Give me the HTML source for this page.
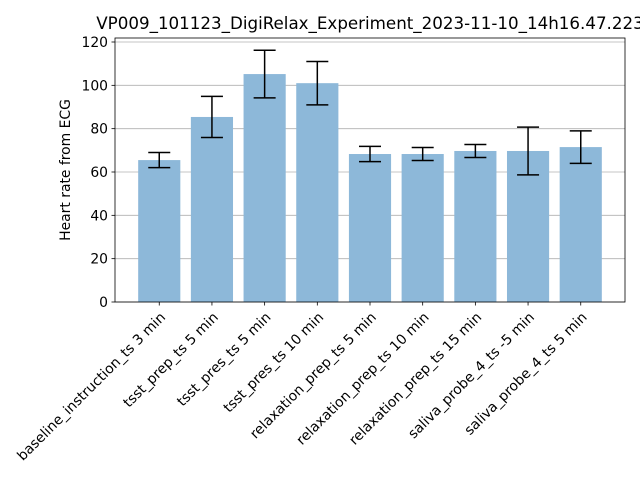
<!DOCTYPE html>
<html><head><meta charset="utf-8"><style>
html,body{margin:0;padding:0;background:#fff;overflow:hidden}
svg{font-family:"DejaVu Sans","Liberation Sans",sans-serif}
</style></head><body>
<svg id="chart" width="640" height="480" xmlns="http://www.w3.org/2000/svg">
<rect width="640" height="480" fill="#fff"/>
<g id="grid"></g><g id="bars"></g><g id="errs"></g><g id="axes"></g>
</svg>
<script>
const categories=["baseline_instruction_ts 3 min","tsst_prep_ts 5 min","tsst_pres_ts 5 min","tsst_pres_ts 10 min","relaxation_prep_ts 5 min","relaxation_prep_ts 10 min","relaxation_prep_ts 15 min","saliva_probe_4_ts -5 min","saliva_probe_4_ts 5 min"];
const values=[65.5,85.4,105.2,101,68.3,68.3,69.7,69.7,71.5];
const errors=[3.5,9.5,11,10,3.5,3,3,11,7.5];
const yTicks=[0,20,40,60,80,100,120];
const NS="http://www.w3.org/2000/svg";
const L=115,R=625,T=38,B=302;
const xmin=-0.84,xmax=categories.length-1+0.84;
const X=v=>L+(v-xmin)/(xmax-xmin)*(R-L);
const Y=v=>B-v*(260/120);
function mk(tag,attrs,parent,text){const e=document.createElementNS(NS,tag);for(const k in attrs)e.setAttribute(k,attrs[k]);if(text!==undefined)e.textContent=text;document.getElementById(parent).appendChild(e);return e;}
yTicks.forEach(t=>{
 const g=mk('line',{x1:L,x2:R,y1:Y(t),y2:Y(t),stroke:'#b0b0b0','stroke-width':0.8},'grid');
 
 
 mk('line',{x1:L-3.5,x2:L,y1:Y(t),y2:Y(t),stroke:'#000','stroke-width':0.8},'axes');
 const tl=mk('text',{x:L-7,y:Y(t)+5,'text-anchor':'end','font-size':13.9},'axes',String(t));
 
 
});
const bw=0.8*(R-L)/(xmax-xmin);
categories.forEach((c,i)=>{
 const cx=X(i);
 const b=mk('rect',{x:cx-bw/2,y:Y(values[i]),width:bw,height:B-Y(values[i]),fill:'#8db8d9'},'bars');
 
 
 const lo=Y(values[i]-errors[i]),hi=Y(values[i]+errors[i]);
 mk('line',{x1:cx,x2:cx,y1:lo,y2:hi,stroke:'#000','stroke-width':1.5},'errs');
 mk('line',{x1:cx-11,x2:cx+11,y1:lo,y2:lo,stroke:'#000','stroke-width':1.5},'errs');
 mk('line',{x1:cx-11,x2:cx+11,y1:hi,y2:hi,stroke:'#000','stroke-width':1.5},'errs');
 mk('line',{x1:cx,x2:cx,y1:B,y2:B+3.5,stroke:'#000','stroke-width':0.8},'axes');
 const t=mk('text',{x:0,y:0,'text-anchor':'end','font-size':13.9,transform:`translate(${cx+7},${B+16}) rotate(-45)`},'axes',c);
 
 
});
const fr=mk('rect',{x:L,y:T,width:R-L,height:B-T,fill:'none',stroke:'#000','stroke-width':0.8},'axes');


const yt=mk('text',{x:0,y:0,'text-anchor':'middle','font-size':13.9,transform:`translate(70,${(T+B)/2}) rotate(-90)`},'axes','Heart rate from ECG');


const ti=mk('text',{x:(L+R)/2,y:T-9,'text-anchor':'middle','font-size':16.7},'axes','VP009_101123_DigiRelax_Experiment_2023-11-10_14h16.47.223');


</script>
</body></html>
